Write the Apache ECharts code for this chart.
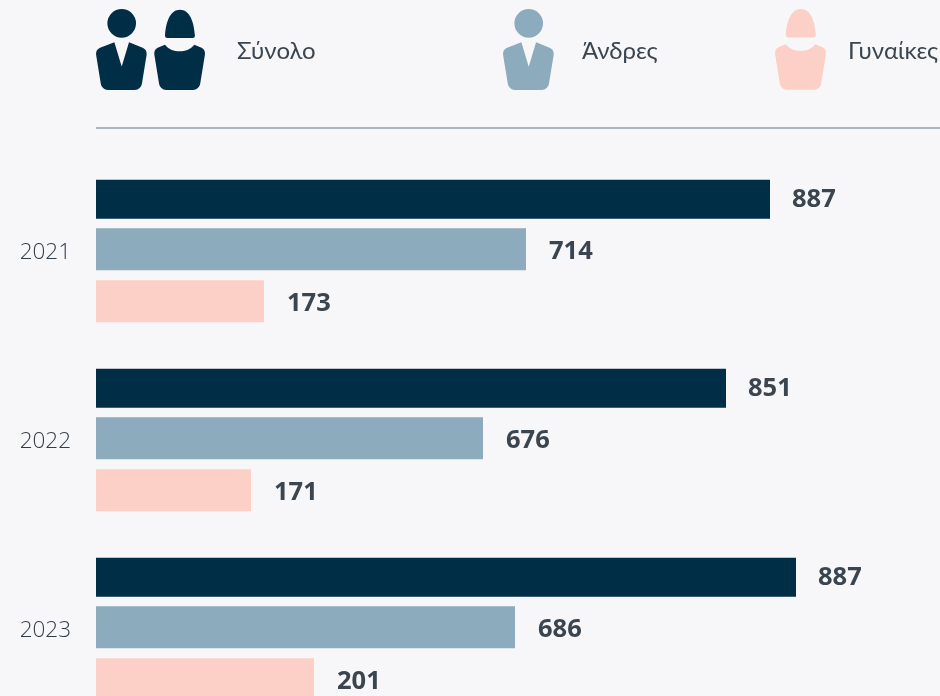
<!DOCTYPE html>
<html><head><meta charset="utf-8">
<style>html,body{margin:0;padding:0;background:#f7f7fa}#c{width:940px;height:696px}</style>
<script src="https://cdn.jsdelivr.net/npm/echarts@6/dist/echarts.min.js"></script>
</head><body><div id="c"></div>
<script>
const years = ['2021','2022','2023'];
const seriesNames = ['Σύνολο','Άνδρες','Γυναίκες'];
// Printed labels
const totalLabels = [887,851,887];
const menLabels = [714,676,686];
const womenLabels = [173,171,201];
// Drawn bar lengths (the reference's bars are not proportional to its labels)
const totalLengths = [674,630,700];
const menLengths = [430,387,419];
const womenLengths = [168,155,218];

const MAN_BODY = 'M103 125 L60 141 C51 145 47 152 48 162 L62 248 C64 260 72 268 84 268 L164 268 C176 268 184 260 186 248 L200 162 C201 152 197 145 188 141 L147 125 L125 198 Z';
const MAN_HEAD = 'M82 68 A43 43 0 1 1 168 68 A43 43 0 1 1 82 68 Z';
const WOMAN_HAIR = 'M255 105 C258 60 272 27 300 27 C328 27 342 60 345 105 Q345 112 338 112 L262 112 Q255 112 255 105 Z';
const WOMAN_BODY = 'M255 132 C268 147 282 152 299 152 C316 152 330 147 343 132 L365 141 C373 145 376 152 375 162 L361 248 C359 260 351 268 339 268 L259 268 C247 268 239 260 237 248 L223 162 C222 152 225 145 233 141 Z';
const iconTotal = 'path://' + MAN_HEAD + MAN_BODY + WOMAN_HAIR + WOMAN_BODY;
const iconMen = 'path://' + MAN_HEAD + MAN_BODY;
const iconWomen = 'path://' + WOMAN_HAIR + WOMAN_BODY;

const textColor = '#3b4550';
const legendFont = 'Lato, "Noto Sans", sans-serif';
const numFont = '"Open Sans", sans-serif';

function legendItem(name, icon, left, w, gap){
  return {
    data:[name], left:left, top:9, icon:icon, itemWidth:w, itemHeight:81, itemGap:0, padding:0,
    selectedMode:false,
    formatter:'{t|{name}}',
    textStyle:{rich:{t:{color:textColor, fontFamily:legendFont, fontSize:24, fontWeight:400, padding:[4,0,0,gap]}}}
  };
}
function barSeries(name, lengths, labels, color, width, shift){
  return {
    name:name, type:'bar', barWidth:width, barGap:'24%', data:lengths,
    itemStyle:{color:color}, silent:true,
    label:{show:true, position:'right', distance:22, offset:[shift,shift*3], color:textColor, fontFamily:numFont, fontSize:25.5, fontWeight:'bold',
      formatter:p=>String(labels[p.dataIndex])}
  };
}
const chart = echarts.init(document.getElementById('c'), null, {renderer:'canvas'});
chart.setOption({
  animation:false,
  backgroundColor:'#f7f7fa',
  grid:{left:96, top:156.5, width:844, height:567, outerBoundsMode:'none', containLabel:false},
  xAxis:{type:'value', min:0, max:844, show:false},
  yAxis:{type:'category', inverse:true, data:years,
    axisLine:{show:false}, axisTick:{show:false},
    axisLabel:{margin:25, formatter:'{t|{value}}',
      rich:{t:{color:'#333d48', fontFamily:numFont, fontSize:22.5, fontWeight:300, padding:[4,0,0,0]}}}},
  legend:[
    legendItem(seriesNames[0], iconTotal, 96, 109, 27),
    legendItem(seriesNames[1], iconMen, 503, 51, 23),
    legendItem(seriesNames[2], iconWomen, 775, 51, 17)
  ],
  graphic:[{type:'rect', left:96, top:127, shape:{width:844, height:2}, style:{fill:'#aeb6bd'}, silent:true}],
  series:[
    barSeries(seriesNames[0], totalLengths, totalLabels, '#012e47', 39, 0),
    barSeries(seriesNames[1], menLengths, menLabels, '#8cacbd', 42, 1),
    barSeries(seriesNames[2], womenLengths, womenLabels, '#fdd0c7', 42, 1)
  ]
});
</script></body></html>
